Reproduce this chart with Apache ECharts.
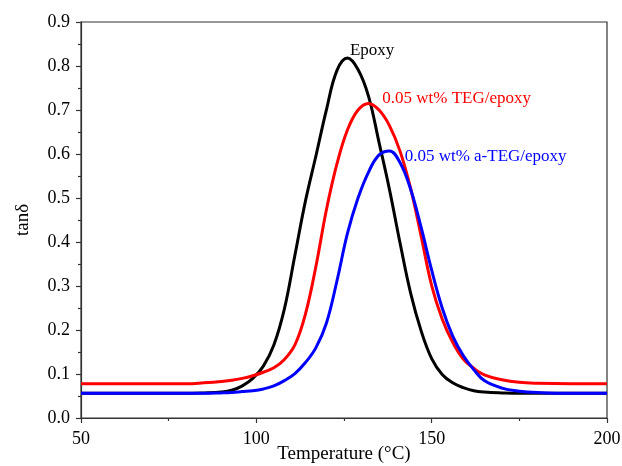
<!DOCTYPE html>
<html>
<head>
<meta charset="utf-8">
<script src="https://cdn.jsdelivr.net/npm/echarts@6/dist/echarts.min.js"></script>
<style>
html,body{margin:0;padding:0;background:#fff;}
#chart{width:622px;height:466px;}
</style>
</head>
<body>
<div id="chart"></div>
<script>
// Temperature (°C) sample points and tanδ values
const temperature = [50, 60, 70, 80, 85, 90, 93, 96, 99, 102, 105, 108, 111, 114, 117, 120, 123, 126, 129, 132, 135, 138, 141, 144, 147, 150, 153, 156, 159, 162, 165, 170, 175, 180, 190, 200];
const epoxy =  [0.056, 0.056, 0.056, 0.056, 0.057, 0.059, 0.063, 0.073, 0.090, 0.118, 0.166, 0.248, 0.370, 0.493, 0.596, 0.701, 0.790, 0.818, 0.792, 0.731, 0.626, 0.518, 0.397, 0.284, 0.198, 0.135, 0.099, 0.080, 0.069, 0.062, 0.059, 0.057, 0.056, 0.056, 0.056, 0.056];
const tegEpoxy = [0.078, 0.078, 0.078, 0.078, 0.080, 0.083, 0.086, 0.090, 0.096, 0.104, 0.114, 0.133, 0.166, 0.236, 0.345, 0.474, 0.578, 0.655, 0.700, 0.715, 0.700, 0.664, 0.606, 0.522, 0.413, 0.301, 0.225, 0.172, 0.134, 0.113, 0.098, 0.087, 0.081, 0.079, 0.078, 0.078];
const ategEpoxy = [0.056, 0.056, 0.056, 0.056, 0.056, 0.057, 0.058, 0.060, 0.062, 0.066, 0.073, 0.085, 0.101, 0.126, 0.160, 0.216, 0.312, 0.420, 0.500, 0.559, 0.598, 0.607, 0.580, 0.520, 0.433, 0.336, 0.250, 0.186, 0.142, 0.110, 0.085, 0.068, 0.061, 0.058, 0.056, 0.056];

const seriesNames = ['Epoxy', '0.05 wt% TEG/epoxy', '0.05 wt% a-TEG/epoxy'];
// label anchor positions in data space [T, tanδ]
const labelAnchors = [[126.7, 0.836], [135.9, 0.727], [142.3, 0.594]];

const FONT = '"Liberation Serif", "Times New Roman", serif';

function pairs(t, v) { return t.map((x, i) => [x, v[i]]); }

function makeSeries(name, v, color, anchor) {
  return {
    name: name,
    type: 'line',
    data: pairs(temperature, v),
    smooth: 0.4,
    showSymbol: false,
    symbol: 'none',
    lineStyle: { color: color, width: 3 },
    z: 3,
    markPoint: {
      symbol: 'circle',
      symbolSize: 0,
      silent: true,
      data: [{
        coord: anchor,
        label: {
          show: true,
          formatter: name,
          position: 'right',
          distance: 0,
          color: color,
          fontFamily: FONT,
          fontSize: 17
        }
      }]
    }
  };
}

const chart = echarts.init(document.getElementById('chart'));
chart.setOption({
  animation: false,
  backgroundColor: '#fff',
  grid: {
    left: 81, right: 15, top: 22, bottom: 48,
    containLabel: false, outerBoundsMode: 'none',
    show: true, borderColor: '#333', borderWidth: 1.2, backgroundColor: 'transparent'
  },
  xAxis: {
    type: 'value',
    min: 50, max: 200, interval: 50,
    name: 'Temperature (°C)',
    nameLocation: 'middle',
    nameGap: 27,
    nameMoveOverlap: false,
    nameTextStyle: { fontFamily: FONT, fontSize: 19, color: '#000' },
    axisLine: { show: true, lineStyle: { color: '#333', width: 1.2 } },
    axisTick: { show: true, inside: false, length: 5, lineStyle: { color: '#333', width: 1.2 } },
    minorTick: { show: true, splitNumber: 2, length: 3, lineStyle: { color: '#333', width: 1.2 } },
    splitLine: { show: false },
    axisLabel: { fontFamily: FONT, fontSize: 18, color: '#000', margin: 12 }
  },
  yAxis: {
    type: 'value',
    min: 0, max: 0.9, interval: 0.1,
    name: 'tanδ',
    nameLocation: 'middle',
    nameGap: 48,
    nameTextStyle: { fontFamily: FONT, fontSize: 19, color: '#000' },
    axisLine: { show: true, lineStyle: { color: '#333', width: 1.2 } },
    axisTick: { show: true, inside: false, length: 5, lineStyle: { color: '#333', width: 1.2 } },
    minorTick: { show: true, splitNumber: 2, length: 3, lineStyle: { color: '#333', width: 1.2 } },
    splitLine: { show: false },
    axisLabel: {
      fontFamily: FONT, fontSize: 18, color: '#000', margin: 11,
      formatter: v => v.toFixed(1)
    }
  },
  series: [
    makeSeries(seriesNames[0], epoxy, '#000000', labelAnchors[0]),
    makeSeries(seriesNames[1], tegEpoxy, '#ff0000', labelAnchors[1]),
    makeSeries(seriesNames[2], ategEpoxy, '#0000ff', labelAnchors[2])
  ]
});
</script>
</body>
</html>
